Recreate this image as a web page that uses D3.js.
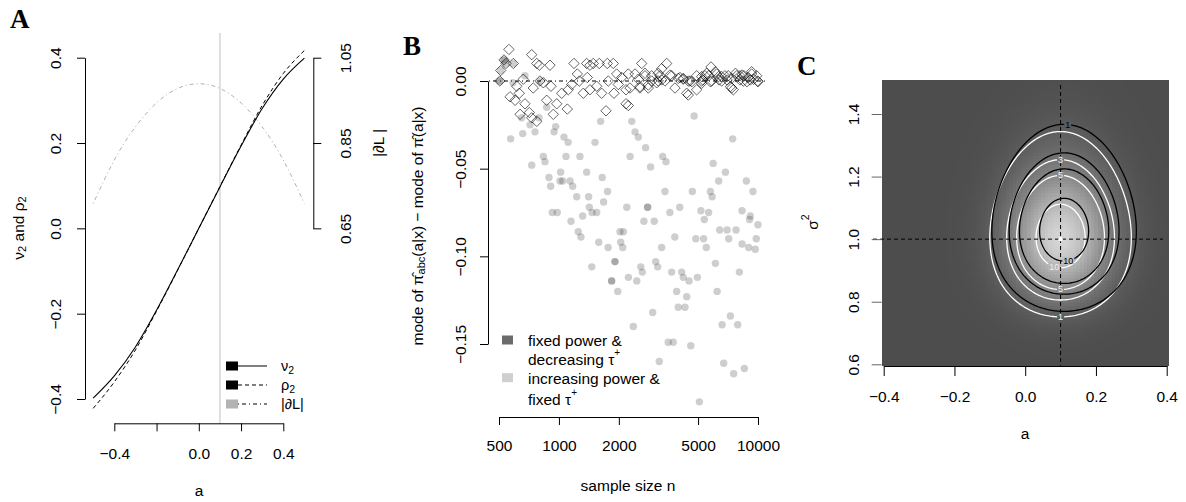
<!DOCTYPE html>
<html><head><meta charset="utf-8">
<script src="https://cdn.jsdelivr.net/npm/d3@7"></script>
<style>body{margin:0;background:#fff}</style>
</head><body><svg id="c" width="1186" height="502" xmlns="http://www.w3.org/2000/svg"></svg>
<script>
// ---------------- Panel A data ----------------
const aGrid = [-0.5,-0.4,-0.3,-0.2,-0.1,0,0.1,0.2,0.3,0.4,0.5];
const nu2   = [-0.398,-0.346,-0.278,-0.192,-0.097,0,0.097,0.193,0.281,0.350,0.399];
const rho2  = [-0.422,-0.360,-0.285,-0.194,-0.098,0,0.098,0.195,0.288,0.363,0.417];
const absDL = [0.708,0.810,0.888,0.944,0.978,0.989,0.978,0.944,0.888,0.810,0.708];
const aTicksA = [-0.4,-0.2,0,0.2,0.4];
const aTickLabelsA = ["\u22120.4","","0.0","0.2","0.4"];
const leftTicksA = [-0.4,-0.2,0,0.2,0.4];
const rightTicksA = [0.65,0.85,1.05];
const trueA = [0.1];
const legendA = ["\u03BD", "\u03C1", "|\u2202L|"];

// ---------------- Panel B data ----------------
const fixedN = [561,530,542,590,510,505,730,774,797,902,614,568,602,632,675,638,710,730,774,662,743,803,835,912,868,937,975,1033,1102,1114,1159,1190,1237,1266,1326,1378,1432,1488,1388,1432,1548,1595,1640,1724,1750,1875,1950,1770,1890,1987,2067,2172,2172,2605,3478,5806,2231,2411,2706,2924,3282,3684,4056,4553,4920,5415,6200,7092,8117,9292,9963,2275,2554,2811,3155,3410,3828,4381,4920,4465,5210,5853,6568,7374,8433,8934,9850,2231,2924,3098,4213,6826,7815,4465,7515,2504,3219,6330,8500,7000,5660,5280,8120,9500,
  2706,3155,3610,3976,5520,6110,7710,9290,2554,2811,3282,4650,5210,5764,6380,7267,8800,10000,5210,6568,7374,8317,9150,4213];
const fixedV = [0.018,0.012,0.010,0.010,0.006,0.000,0.015,0.010,0.009,0.009,-0.003,-0.009,-0.011,-0.007,-0.013,-0.019,-0.018,-0.021,-0.023,0.001,-0.004,0.000,-0.001,-0.003,-0.011,-0.019,-0.013,-0.007,-0.016,-0.005,-0.002,0.010,0.004,0.000,-0.007,0.010,0.009,0.010,0.002,-0.005,-0.003,0.010,-0.007,-0.017,0.010,0.010,0.004,0.000,-0.007,-0.002,0.002,-0.013,-0.005,0.010,0.010,0.008,0.004,0.004,0.003,0.003,0.007,0.003,0.002,0.000,0.003,0.003,0.004,0.003,0.003,0.004,0.000,-0.004,-0.004,-0.004,0.000,0.000,-0.004,-0.007,-0.005,0.000,0.000,0.000,0.000,-0.004,0.000,0.002,0.003,-0.014,0.000,-0.001,0.001,0.003,0.003,-0.008,-0.005,0.001,0.003,0.0025,0.003,0.0006,0.003,0.0006,0.0006,0.001,
  0.0044,0.0044,0.0034,0.0015,0.0044,0.0053,0.0044,0.0053,-0.0032,-0.0023,0.0006,-0.0004,-0.0013,-0.0004,0.0006,-0.0032,-0.0004,-0.0004,0.0025,0.0025,0.0015,0.0034,0.0006,0.0015];
const incN = [572,658,675,588,650,716,758,730,794,868,945,963,835,851,891,909,1020,1013,1044,1060,1113,1085,1137,1172,1275,1228,1378,1410,1150,926,981,1316,1421,1467,1548,1250,1290,1518,1620,1650,1755,1677,1585,1767,2027,2106,2043,2091,2192,2277,2322,2412,2506,2725,2672,3012,2789,2789,2886,3281,3320,3449,3409,3609,3820,4044,4680,4776,4870,5330,5166,5650,5373,5500,5764,5880,5950,6347,6860,6420,6994,7760,7125,7460,8317,8740,9075,9435,9995,9800,8317,8975,9150,9685,1462,1912,1912,1840,1840,1975,2234,2460,2577,2625,2364,2958,3062,3133,3192,3540,3752,3684,3903,3976,4298,4135,4214,4385,4504,4595,4960,5076,6110,6233,6600,6724,7267,7548,7907,8063,8541,530,530,510,505,505,590,803,542];
const incV = [-0.033,-0.030,0.003,-0.001,-0.021,-0.025,-0.029,-0.048,-0.021,-0.015,-0.029,-0.026,-0.043,-0.046,-0.055,-0.060,-0.052,-0.057,-0.057,-0.032,-0.035,-0.043,-0.057,-0.060,-0.043,-0.066,-0.052,-0.066,-0.080,-0.075,-0.075,-0.077,-0.072,-0.075,-0.075,-0.086,-0.089,-0.035,-0.023,-0.055,-0.063,-0.069,-0.092,-0.095,-0.086,-0.086,-0.092,-0.095,-0.072,-0.043,-0.023,-0.029,-0.032,-0.038,-0.080,-0.080,-0.072,-0.072,-0.049,-0.095,-0.043,-0.046,-0.063,-0.075,-0.089,-0.072,-0.063,-0.020,-0.090,-0.090,-0.074,-0.075,-0.079,-0.095,-0.063,-0.066,-0.047,-0.057,-0.052,-0.085,-0.085,-0.085,-0.090,-0.033,-0.074,-0.057,-0.079,-0.063,-0.082,-0.090,-0.093,-0.095,-0.077,-0.096,-0.106,-0.103,-0.103,-0.114,-0.114,-0.120,-0.112,-0.114,-0.106,-0.109,-0.140,-0.132,-0.103,-0.106,-0.160,-0.149,-0.149,-0.109,-0.120,-0.129,-0.129,-0.109,-0.112,-0.123,-0.114,-0.151,-0.112,-0.183,-0.104,-0.120,-0.139,-0.161,-0.134,-0.167,-0.139,-0.109,-0.164,0.012,0.012,0.006,0.000,0.000,0.010,0.000,0.010];
const nTicks = [500,1000,2000,5000,10000];
const bYTicks = [0,-0.05,-0.10,-0.15];
const bYLabels = ["0.00","\u22120.05","\u22120.10","\u22120.15"];
const legendB = ["fixed power &","decreasing \u03C4","increasing power &","fixed \u03C4"];

// ---------------- Panel C data ----------------
const cXTicks = [-0.4,-0.2,0,0.2,0.4];
const cXLabels = ["\u22120.4","\u22120.2","0.0","0.2","0.4"];
const cYTicks = [0.6,0.8,1.0,1.2,1.4];
const cYLabels = ["0.6","0.8","1.0","1.2","1.4"];
const contourLevels = [1,3,5,10];
// posterior shape: centre a, centre ln(sigma^2), spread a, spread ln(sigma^2), peak height
const truePost = [0.100, 0.005, 0.0874, 0.127, 13.7];
const abcPost  = [0.110, 0.025, 0.0895, 0.126, 13.5];
const trueParam = [0.1, 1.0];
// contour labels: [which, level, side(+1 top/-1 bottom), a]
const contourLabels = [["abc",1,1,0.12],["true",3,1,0.1],["true",5,1,0.1],["abc",10,-1,0.122],["true",10,-1,0.082],["true",5,-1,0.1],["true",1,-1,0.1]];

// =====================================================
const svg = d3.select("#c");
const FONT = "'Liberation Sans', Arial, Helvetica, sans-serif";
const SERIF = "'Liberation Serif','DejaVu Serif','Times New Roman',serif";
const FS = 15.5;

function title(t,x,y){
  svg.append("text").attr("x",x).attr("y",y).attr("font-family",SERIF)
    .attr("font-weight","bold").attr("font-size",27).attr("fill","#000").text(t);
}
function styleAxis(g){
  g.attr("font-family",FONT).attr("font-size",FS);
  g.selectAll("path.domain").attr("stroke","#000").attr("stroke-width",1);
  g.selectAll(".tick line").attr("stroke","#000").attr("stroke-width",1);
  g.selectAll(".tick text").attr("fill","#000");
}
function rotLabels(g, dx){
  g.selectAll(".tick text").attr("x",null).attr("y",null).attr("dy",null)
    .attr("transform",`translate(${dx},0) rotate(-90)`)
    .attr("text-anchor","middle").attr("dominant-baseline","central");
}
function bottomLabels(g, dy){
  g.selectAll(".tick text").attr("y",dy).attr("dy",null).attr("dominant-baseline","central");
}

// ================= Panel A =================
title("A", 10, 28);
const xA = d3.scaleLinear([-0.4,0.4],[114.3,283.3]);
const yA = d3.scaleLinear([-0.4,0.4],[399,57.7]);
const yR = d3.scaleLinear([0.65,1.05],[yA(0),yA(0.4)]);
const gA = svg.append("g");

gA.selectAll("line.truth").data(trueA).join("line").attr("class","truth")
  .attr("x1",d=>xA(d)).attr("x2",d=>xA(d)).attr("y1",33).attr("y2",424)
  .attr("stroke","#d6d6d6").attr("stroke-width",1.5);

const lineL = (vals)=>d3.line().x((d,i)=>xA(aGrid[i])).y(d=>yA(d)).curve(d3.curveMonotoneX)(vals);
const lineR = d3.line().x((d,i)=>xA(aGrid[i])).y(d=>yR(d)).curve(d3.curveNatural);
gA.append("path").attr("d",lineR(absDL)).attr("fill","none").attr("stroke","#b0b0b0")
  .attr("stroke-width",1).attr("stroke-dasharray","1,3,4,3");
gA.append("path").attr("d",lineL(rho2)).attr("fill","none").attr("stroke","#000")
  .attr("stroke-width",1).attr("stroke-dasharray","4,3");
gA.append("path").attr("d",lineL(nu2)).attr("fill","none").attr("stroke","#000").attr("stroke-width",1.1);

const axAL = gA.append("g").attr("transform","translate(85,0)")
  .call(d3.axisLeft(yA).tickValues(leftTicksA).tickSize(8).tickSizeOuter(0)
    .tickFormat(d=>d3.format(".1f")(d).replace("-","\u2212")));
styleAxis(axAL); rotLabels(axAL,-30);
const axAR = gA.append("g").attr("transform","translate(313.3,0)")
  .call(d3.axisRight(yR).tickValues(rightTicksA).tickSize(8).tickSizeOuter(0).tickFormat(d3.format(".2f")));
styleAxis(axAR); rotLabels(axAR,32);
const axAB = gA.append("g").attr("transform","translate(0,423.3)")
  .call(d3.axisBottom(xA).tickValues(aTicksA).tickSize(8).tickSizeOuter(0)
    .tickFormat((d,i)=>aTickLabelsA[i]));
styleAxis(axAB); bottomLabels(axAB,30);

// axis titles
const tA = gA.append("text").attr("transform","translate(18,228) rotate(-90)")
  .attr("text-anchor","middle").attr("dominant-baseline","central")
  .attr("font-family",FONT).attr("font-size",FS);
tA.append("tspan").text("\u03BD");
tA.append("tspan").attr("font-size",11).attr("dy",4).text("2");
tA.append("tspan").attr("dy",-4).text(" and \u03C1");
tA.append("tspan").attr("font-size",11).attr("dy",4).text("2");
gA.append("text").attr("transform","translate(378,143) rotate(-90)")
  .attr("text-anchor","middle").attr("dominant-baseline","central")
  .attr("font-family",FONT).attr("font-size",FS).text("|\u2202L |");
gA.append("text").attr("x",199).attr("y",490).attr("text-anchor","middle")
  .attr("dominant-baseline","central").attr("font-family",FONT).attr("font-size",FS).text("a");

// legend A
const legRowsA = [366,385,404];
const legFillA = ["#000","#000","#b3b3b3"];
const legDashA = [null,"4,3","1,3,4,3"];
legendA.forEach((lab,i)=>{
  const y = legRowsA[i];
  gA.append("rect").attr("x",226).attr("y",y-4.5).attr("width",12).attr("height",9).attr("fill",legFillA[i]);
  gA.append("line").attr("x1",238).attr("x2",267).attr("y1",y).attr("y2",y)
    .attr("stroke","#000").attr("stroke-width",1).attr("stroke-dasharray",legDashA[i]);
  const t = gA.append("text").attr("x",281).attr("y",y).attr("dominant-baseline","central")
    .attr("font-family",FONT).attr("font-size",14.5);
  t.append("tspan").text(lab);
  if(i<2) t.append("tspan").attr("font-size",10.5).attr("dy",4).text("2");
});

// ================= Panel B =================
title("B", 403, 55);
const xB = d3.scaleLog([500,10000],[499,758]);
const yB = d3.scaleLinear([0,-0.15],[81,344]);
const gB = svg.append("g");
gB.append("line").attr("x1",489).attr("x2",768).attr("y1",yB(0)).attr("y2",yB(0))
  .attr("stroke","#000").attr("stroke-width",1).attr("stroke-dasharray","1,3,4,3");

const incData = incN.map((n,i)=>[n,incV[i]]);
gB.selectAll("circle.inc").data(incData).join("circle").attr("class","inc")
  .attr("cx",d=>xB(d[0])).attr("cy",d=>yB(d[1])).attr("r",3.7)
  .attr("fill","#333").attr("fill-opacity",0.24);
const fixData = fixedN.map((n,i)=>[n,fixedV[i]]);
const dia = r=>`M0,${-r}L${r},0L0,${r}L${-r},0Z`;
gB.selectAll("path.fix").data(fixData).join("path").attr("class","fix")
  .attr("transform",d=>`translate(${xB(d[0])},${yB(d[1])})`).attr("d",dia(5.2))
  .attr("fill","none").attr("stroke","#000").attr("stroke-opacity",0.6).attr("stroke-width",1);

const axBL = gB.append("g").attr("transform","translate(488,0)")
  .call(d3.axisLeft(yB).tickValues(bYTicks).tickSize(8).tickSizeOuter(0).tickFormat((d,i)=>bYLabels[i]));
styleAxis(axBL); rotLabels(axBL,-28);
const axBB = gB.append("g").attr("transform","translate(0,417)")
  .call(d3.axisBottom(xB).tickValues(nTicks).tickSize(8).tickSizeOuter(0).tickFormat(d3.format("d")));
styleAxis(axBB); bottomLabels(axBB,28);

gB.append("text").attr("x",628).attr("y",485).attr("text-anchor","middle")
  .attr("dominant-baseline","central").attr("font-family",FONT).attr("font-size",FS).text("sample size n");
const tB = gB.append("text").attr("transform","translate(417,226) rotate(-90)")
  .attr("text-anchor","middle").attr("dominant-baseline","central")
  .attr("font-family",FONT).attr("font-size",FS);
tB.append("tspan").text("mode of \u03C0\u0302");
tB.append("tspan").attr("font-size",11).attr("dy",4).text("abc");
tB.append("tspan").attr("dy",-4).text("(a|x) \u2212 mode of \u03C0\u0302(a|x)");

// legend B
const legYB = [340,359.3,377.7,399];
const legColB = ["#6b6b6b","#cfcfcf"];
[0,1].forEach(k=>{
  gB.append("rect").attr("x",502).attr("y",legYB[k*2]-4.5).attr("width",11).attr("height",9).attr("fill",legColB[k]);
});
legendB.forEach((lab,i)=>{
  const t = gB.append("text").attr("x",528).attr("y",legYB[i]).attr("dominant-baseline","central")
    .attr("font-family",FONT).attr("font-size",FS);
  t.append("tspan").text(lab);
  if(i%2===1) t.append("tspan").attr("font-size",10).attr("dy",-7).text("+");
});

// ================= Panel C =================
title("C", 797, 75);
const xC = d3.scaleLinear([-0.4,0.4],[883.7,1166.7]);
const yC = d3.scaleLinear([0.6,1.4],[364.3,114]);
const gC = svg.append("g");
function dens(p,a,s){
  const za=(a-p[0])/p[2], zl=(Math.log(s)-p[1])/p[3];
  return p[4]*Math.exp(-0.5*(za*za+zl*zl));
}
function grayAt(a,s){
  const f = dens(truePost,a,s)/truePost[4];
  return Math.round(77 + 135*Math.pow(f,0.8));
}
const a0=-0.405, a1=0.405, s0=0.598, s1=1.508;
// image cells
const na=81, ns=91, da=(a1-a0)/na, ds=(s1-s0)/ns;
const cells=[];
for(let j=0;j<ns;j++) for(let i=0;i<na;i++){
  const a=a0+(i+0.5)*da, s=s0+(j+0.5)*ds;
  cells.push({a:a0+i*da, s:s0+j*ds, g:grayAt(a,s)});
}
gC.append("g").attr("shape-rendering","crispEdges").selectAll("rect").data(cells).join("rect")
  .attr("x",d=>xC(d.a)).attr("y",d=>yC(d.s+ds))
  .attr("width",xC(da)-xC(0)+0.6).attr("height",yC(0)-yC(ds)+0.6)
  .attr("fill",d=>`rgb(${d.g},${d.g},${d.g})`);

// contours
const st=0.004, ga=Math.ceil((a1-a0)/st)+1, gs=Math.ceil((s1-s0)/st)+1;
function gridVals(p){
  const v=new Float64Array(ga*gs);
  for(let j=0;j<gs;j++) for(let i=0;i<ga;i++) v[j*ga+i]=dens(p,a0+i*st,s0+j*st);
  return v;
}
const proj = d3.geoTransform({point:function(x,y){ this.stream.point(xC(a0+(x-0.5)*st), yC(s0+(y-0.5)*st)); }});
const cpath = d3.geoPath(proj);
const gen = d3.contours().size([ga,gs]).thresholds(contourLevels);
gC.selectAll("path.ct").data(gen(gridVals(truePost))).join("path").attr("class","ct")
  .attr("d",cpath).attr("fill","none").attr("stroke","#fff").attr("stroke-width",1.3);
gC.selectAll("path.ca").data(gen(gridVals(abcPost))).join("path").attr("class","ca")
  .attr("d",cpath).attr("fill","none").attr("stroke","#000").attr("stroke-width",1.3);

// dashed reference lines
gC.append("line").attr("x1",xC(trueParam[0])).attr("x2",xC(trueParam[0])).attr("y1",85).attr("y2",366)
  .attr("stroke","#000").attr("stroke-width",1).attr("stroke-dasharray","4,3");
gC.append("line").attr("x1",873).attr("x2",1163).attr("y1",yC(trueParam[1])).attr("y2",yC(trueParam[1]))
  .attr("stroke","#000").attr("stroke-width",1).attr("stroke-dasharray","4,3");

// contour labels
contourLabels.forEach(([w,L,side,a])=>{
  const p = w==="true"?truePost:abcPost;
  const za=(a-p[0])/p[2];
  const r2 = 2*Math.log(p[4]/L) - za*za;
  if(r2<=0) return;
  const s = Math.exp(p[1] + side*p[3]*Math.sqrt(r2));
  const x=xC(a), y=yC(s), g=grayAt(a,s);
  const t = gC.append("text").attr("x",x).attr("y",y).attr("text-anchor","middle")
    .attr("dominant-baseline","central").attr("font-family",FONT).attr("font-size",9)
    .attr("fill", w==="true"?"#f0f0f0":"#000").text(L);
  const bb = t.node().getBBox();
  gC.insert("rect", function(){return t.node();}).attr("x",bb.x-1).attr("y",bb.y+1.5).attr("width",bb.width+2)
    .attr("height",bb.height-3).attr("fill",`rgb(${g},${g},${g})`);
});
gC.selectAll("circle.tp").data([trueParam]).join("circle").attr("class","tp")
  .attr("cx",d=>xC(d[0])).attr("cy",d=>yC(d[1])).attr("r",2.2).attr("fill","#fff");

const axCL = gC.append("g").attr("transform","translate(881.7,0)")
  .call(d3.axisLeft(yC).tickValues(cYTicks).tickSize(10).tickSizeOuter(0).tickFormat((d,i)=>cYLabels[i]));
styleAxis(axCL); rotLabels(axCL,-28.7);
axCL.selectAll("path.domain").attr("stroke","none");
axCL.selectAll(".tick line").attr("stroke","#666");
const axCB = gC.append("g").attr("transform","translate(0,366)")
  .call(d3.axisBottom(xC).tickValues(cXTicks).tickSize(10).tickSizeOuter(0).tickFormat((d,i)=>cXLabels[i]));
styleAxis(axCB); bottomLabels(axCB,30.7);

gC.append("text").attr("x",1025).attr("y",433).attr("text-anchor","middle")
  .attr("dominant-baseline","central").attr("font-family",FONT).attr("font-size",FS).text("a");
const tC = gC.append("text").attr("transform","translate(812,222) rotate(-90)")
  .attr("text-anchor","middle").attr("dominant-baseline","central")
  .attr("font-family",FONT).attr("font-size",FS);
tC.append("tspan").text("\u03C3");
tC.append("tspan").attr("font-size",10.5).attr("dy",-7).text("2");
</script></body></html>
